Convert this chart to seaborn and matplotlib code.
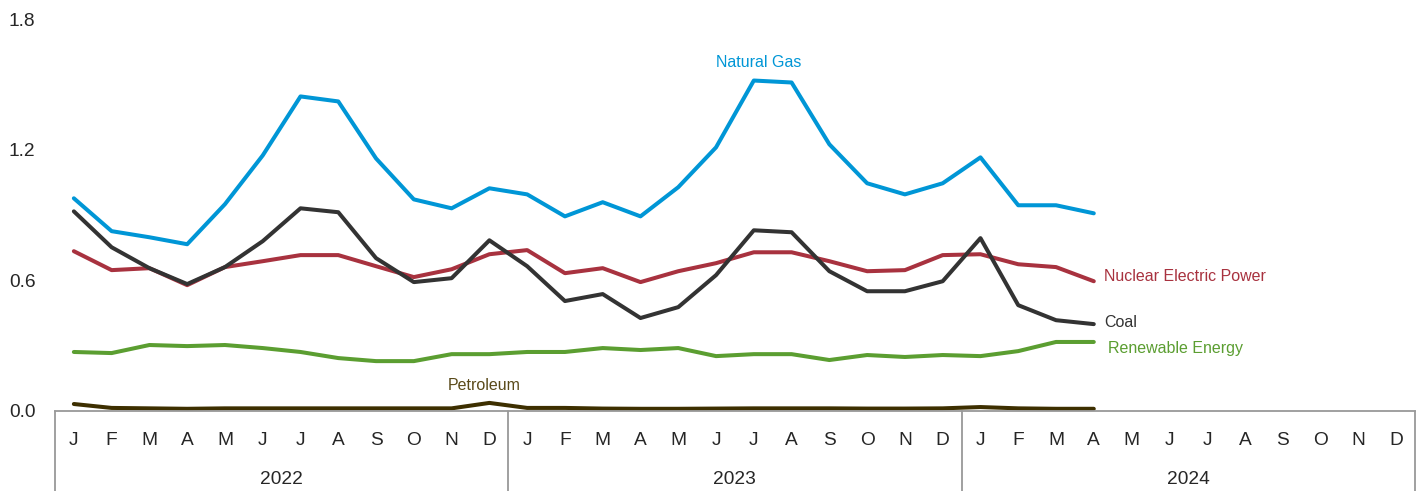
import numpy as np
import pandas as pd
import matplotlib
matplotlib.use("Agg")
import matplotlib.pyplot as plt
import matplotlib.transforms as mtransforms
import seaborn as sns

months = ["J", "F", "M", "A", "M", "J", "J", "A", "S", "O", "N", "D"]
years = ["2022", "2023", "2024"]

natural_gas = [0.977, 0.826, 0.798, 0.766, 0.95, 1.174, 1.445, 1.422, 1.16, 0.972, 0.931, 1.023,
               0.995, 0.894, 0.959, 0.894, 1.028, 1.211, 1.518, 1.509, 1.225, 1.046, 0.995, 1.046,
               1.165, 0.945, 0.945, 0.908]
coal = [0.917, 0.752, 0.656, 0.583, 0.661, 0.78, 0.931, 0.913, 0.702, 0.592, 0.61, 0.784,
        0.665, 0.505, 0.537, 0.427, 0.477, 0.624, 0.83, 0.821, 0.642, 0.55, 0.55, 0.596,
        0.794, 0.486, 0.417, 0.399]
nuclear = [0.734, 0.647, 0.656, 0.578, 0.661, 0.688, 0.716, 0.716, 0.665, 0.615, 0.651, 0.72,
           0.739, 0.633, 0.656, 0.592, 0.642, 0.679, 0.729, 0.729, 0.688, 0.642, 0.647, 0.716,
           0.72, 0.674, 0.661, 0.596]
renewable = [0.271, 0.266, 0.303, 0.298, 0.303, 0.289, 0.271, 0.243, 0.229, 0.229, 0.261, 0.261,
             0.271, 0.271, 0.289, 0.28, 0.289, 0.252, 0.261, 0.261, 0.234, 0.257, 0.248, 0.257,
             0.252, 0.275, 0.317, 0.317]
petroleum = [0.032, 0.014, 0.012, 0.010, 0.012, 0.012, 0.012, 0.012, 0.012, 0.012, 0.012, 0.037,
             0.014, 0.014, 0.011, 0.010, 0.010, 0.011, 0.012, 0.012, 0.012, 0.011, 0.011, 0.012,
             0.018, 0.012, 0.010, 0.010]

series = {
    "Natural Gas": natural_gas,
    "Nuclear Electric Power": nuclear,
    "Coal": coal,
    "Renewable Energy": renewable,
    "Petroleum": petroleum,
}
colors = {
    "Natural Gas": "#0096d6",
    "Nuclear Electric Power": "#a8323f",
    "Coal": "#333333",
    "Renewable Energy": "#5b9e31",
    "Petroleum": "#3d2f00",
}
label_colors = dict(colors)
label_colors["Petroleum"] = "#5a4a1a"

rows = []
for name, vals in series.items():
    for i, v in enumerate(vals):
        rows.append({"month": i, "value": v, "source": name})
df = pd.DataFrame(rows)

sns.set_style("white")
plt.rcParams["font.family"] = ["Liberation Sans", "DejaVu Sans"]

fig = plt.figure(figsize=(14.24, 4.91), dpi=100)
ax = fig.add_axes([0.0386, 0.163, 0.955, 0.798])

sns.lineplot(data=df, x="month", y="value", hue="source", palette=colors,
             linewidth=2.9, legend=False, ax=ax, solid_capstyle="round")

ax.set_xlim(-0.5, 35.5)
ax.set_ylim(0, 1.8)
ax.set_yticks([0, 0.6, 1.2, 1.8])
ax.set_yticklabels(["0.0", "0.6", "1.2", "1.8"])
ax.set_xticks(range(36))
ax.set_xticklabels(months * 3)
ax.tick_params(axis="x", direction="in", length=5, width=1, color="#999999",
               labelsize=13.8, pad=15)
ax.tick_params(axis="y", length=0, labelsize=13.8, pad=14)
ax.set_xlabel("")
ax.set_ylabel("")
for s in ["top", "right", "left"]:
    ax.spines[s].set_visible(False)
ax.spines["bottom"].set_color("#999999")
ax.spines["bottom"].set_linewidth(1.3)

trans = mtransforms.blended_transform_factory(ax.transData, ax.transAxes)
for k in range(4):
    ax.plot([k * 12 - 0.5] * 2, [0, -0.21], transform=trans, color="#999999",
            linewidth=1.3, clip_on=False)
for k, yr in enumerate(years):
    ax.text(k * 12 + 5.5, -0.176, yr, transform=trans, ha="center", va="center",
            fontsize=13.8)

ax.text(18.13, 1.60, "Natural Gas", color=label_colors["Natural Gas"], fontsize=11.5,
        ha="center", va="center")
ax.text(27.26, 0.619, "Nuclear Electric Power", color=label_colors["Nuclear Electric Power"],
        fontsize=11.5, ha="left", va="center")
ax.text(27.29, 0.408, "Coal", color=label_colors["Coal"], fontsize=11.5, ha="left", va="center")
ax.text(27.37, 0.289, "Renewable Energy", color=label_colors["Renewable Energy"],
        fontsize=11.5, ha="left", va="center")
ax.text(10.85, 0.119, "Petroleum", color=label_colors["Petroleum"], fontsize=11.5,
        ha="center", va="center")

fig.savefig("out.png", dpi=100)
